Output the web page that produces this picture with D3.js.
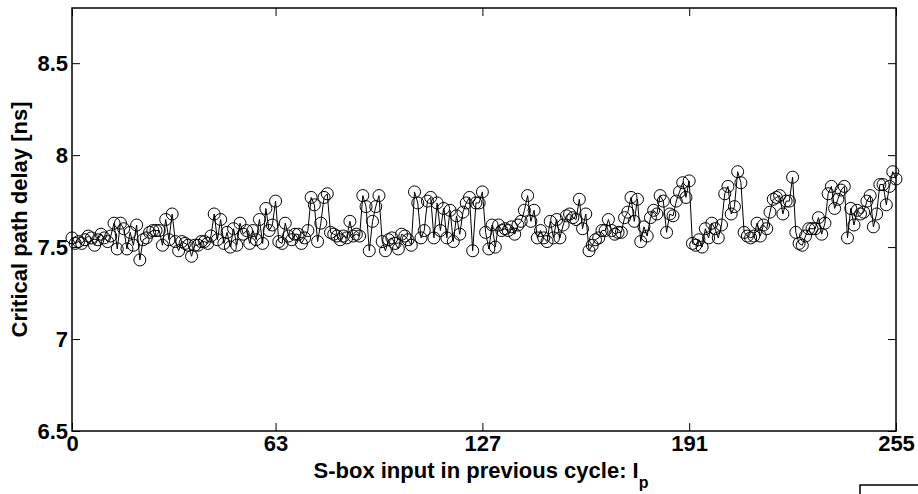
<!DOCTYPE html>
<html><head><meta charset="utf-8">
<script src="https://cdnjs.cloudflare.com/ajax/libs/d3/7.8.5/d3.min.js"></script>
<style>body{margin:0;background:#fff}svg{display:block}</style>
</head><body>
<svg id="c" width="918" height="494"></svg>
<script>
const delays = [
7.55,7.52,7.53,7.52,7.54,7.56,7.55,7.51,7.54,7.57,
7.55,7.53,7.56,7.63,7.49,7.63,7.60,7.49,7.58,7.51,
7.62,7.43,7.54,7.55,7.58,7.59,7.59,7.59,7.51,7.65,
7.54,7.68,7.53,7.48,7.53,7.52,7.51,7.45,7.51,7.51,
7.53,7.53,7.52,7.56,7.68,7.54,7.65,7.52,7.58,7.50,
7.60,7.51,7.63,7.57,7.59,7.52,7.59,7.54,7.65,7.52,
7.71,7.59,7.62,7.75,7.53,7.52,7.63,7.56,7.54,7.57,
7.57,7.52,7.55,7.59,7.77,7.73,7.53,7.63,7.77,7.79,
7.58,7.57,7.56,7.54,7.56,7.55,7.64,7.56,7.57,7.56,
7.78,7.72,7.48,7.64,7.72,7.78,7.53,7.48,7.54,7.55,
7.52,7.49,7.57,7.56,7.54,7.51,7.80,7.74,7.55,7.59,
7.75,7.77,7.55,7.74,7.59,7.71,7.55,7.70,7.53,7.67,
7.57,7.69,7.74,7.77,7.48,7.74,7.74,7.80,7.58,7.49,
7.62,7.50,7.62,7.59,7.60,7.59,7.61,7.57,7.62,7.64,
7.70,7.78,7.64,7.70,7.55,7.59,7.55,7.53,7.64,7.55,
7.65,7.55,7.62,7.67,7.68,7.66,7.65,7.76,7.60,7.68,
7.48,7.51,7.54,7.55,7.59,7.59,7.65,7.59,7.57,7.58,
7.58,7.66,7.69,7.77,7.64,7.76,7.53,7.61,7.56,7.66,
7.70,7.68,7.78,7.75,7.58,7.68,7.67,7.75,7.80,7.85,
7.77,7.86,7.52,7.51,7.54,7.50,7.60,7.55,7.63,7.60,
7.55,7.62,7.79,7.83,7.68,7.72,7.91,7.85,7.58,7.56,
7.55,7.56,7.63,7.56,7.62,7.60,7.69,7.76,7.77,7.78,
7.68,7.75,7.75,7.88,7.58,7.52,7.51,7.56,7.60,7.60,
7.60,7.66,7.57,7.63,7.79,7.83,7.71,7.76,7.81,7.83,
7.55,7.71,7.62,7.70,7.68,7.69,7.75,7.78,7.61,7.68,
7.84,7.84,7.73,7.83,7.91,7.87
];
const inputs = d3.range(delays.length);
const xTicks = [0, 63, 127, 191, 255];
const yTicks = [6.5, 7, 7.5, 8, 8.5];
const xLabel = "S-box input in previous cycle: I";
const xLabelSub = "p";
const yLabel = "Critical path delay [ns]";

const svg = d3.select("#c");
const L = 72, R = 896, T = 8, B = 431;
const x = d3.scaleLinear().domain([0, 255]).range([L, R]);
const y = d3.scaleLinear().domain([6.5, 8.8]).range([B, T]);
const font = "'Liberation Sans', Arial, sans-serif";

// frame
svg.append("rect").attr("x", L).attr("y", T).attr("width", R - L).attr("height", B - T)
  .attr("fill", "none").attr("stroke", "#000").attr("stroke-width", 1.5);

const tl = 8;
// x ticks (bottom & top, inward)
const gx = svg.append("g").attr("transform", `translate(0,${B})`)
  .call(d3.axisBottom(x).tickValues(xTicks).tickSizeInner(-tl).tickSizeOuter(0).tickPadding(4).tickFormat(d3.format("d")));
gx.select(".domain").remove();
gx.selectAll("text").attr("font-family", font).attr("font-weight", "bold").attr("font-size", 22).attr("fill", "#000");
const gxt = svg.append("g").attr("transform", `translate(0,${T})`)
  .call(d3.axisTop(x).tickValues(xTicks).tickSizeInner(-tl).tickSizeOuter(0).tickFormat(""));
gxt.select(".domain").remove();

// y ticks left & right
const gy = svg.append("g").attr("transform", `translate(${L},0)`)
  .call(d3.axisLeft(y).tickValues(yTicks).tickSizeInner(-tl).tickSizeOuter(0).tickPadding(4).tickFormat(d3.format("~g")));
gy.select(".domain").remove();
gy.selectAll("text").attr("font-family", font).attr("font-weight", "bold").attr("font-size", 22).attr("fill", "#000");
const gyr = svg.append("g").attr("transform", `translate(${R},0)`)
  .call(d3.axisRight(y).tickValues(yTicks).tickSizeInner(-tl).tickSizeOuter(0).tickFormat(""));
gyr.select(".domain").remove();

// line
svg.append("path").datum(inputs)
  .attr("fill", "none").attr("stroke", "#000").attr("stroke-width", 1)
  .attr("d", d3.line().x(i => x(i)).y(i => y(delays[i])));
// markers
svg.append("g").selectAll("circle").data(inputs).join("circle")
  .attr("cx", i => x(i)).attr("cy", i => y(delays[i])).attr("r", 6)
  .attr("fill", "none").attr("stroke", "#000").attr("stroke-width", 1);

// labels
const xl = svg.append("text").attr("x", 481).attr("y", 478)
  .attr("text-anchor", "middle").attr("font-family", font).attr("font-weight", "bold").attr("font-size", 22);
xl.append("tspan").text(xLabel);
xl.append("tspan").attr("dy", 10).attr("font-size", 16).text(xLabelSub);

svg.append("text").attr("transform", `translate(27,${(T + B) / 2}) rotate(-90)`)
  .attr("text-anchor", "middle").attr("font-family", font).attr("font-weight", "bold").attr("font-size", 22)
  .text(yLabel);

// partial box at bottom right
svg.append("rect").attr("x", 860).attr("y", 485).attr("width", 80).attr("height", 40)
  .attr("fill", "none").attr("stroke", "#000").attr("stroke-width", 1.5);
</script>
</body></html>
